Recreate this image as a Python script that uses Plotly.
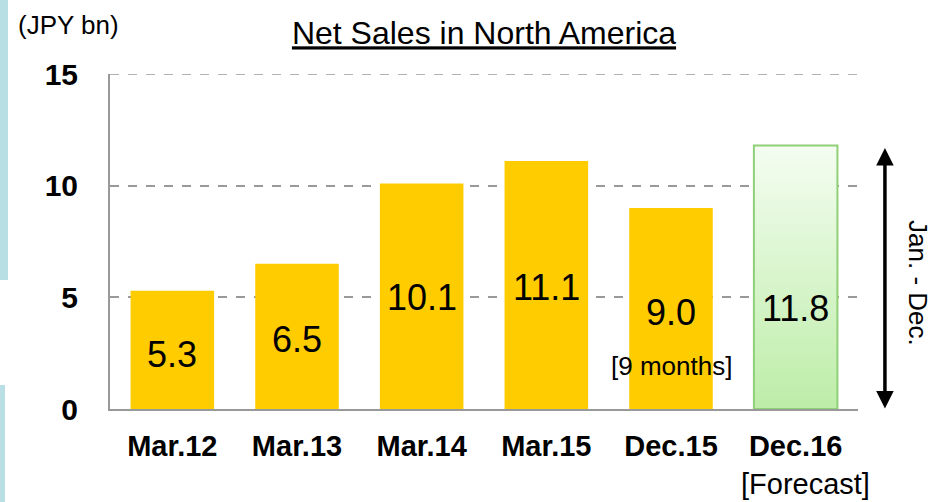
import plotly.graph_objects as go

categories = ["Mar.12", "Mar.13", "Mar.14", "Mar.15", "Dec.15", "Dec.16"]
values = [5.3, 6.5, 10.1, 11.1, 9.0, 11.8]
value_labels = ["5.3", "6.5", "10.1", "11.1", "9.0", "11.8"]
label_y = [2.42, 3.09, 5.0, 5.46, 4.34, 4.52]
y_ticks = [0, 5, 10, 15]

FONT = "Liberation Sans, Arial, sans-serif"
BAR_W = 0.67
xs = list(range(len(categories)))

fig = go.Figure()

# yellow actual bars
fig.add_trace(go.Bar(
    x=xs[:-1], y=values[:-1], width=BAR_W,
    marker=dict(color="#FFCC00", line=dict(width=0)),
    hoverinfo="skip", showlegend=False,
))

# forecast bar with vertical gradient
fx = xs[-1]
fv = values[-1]
fig.add_trace(go.Scatter(
    x=[fx - BAR_W / 2, fx + BAR_W / 2, fx + BAR_W / 2, fx - BAR_W / 2, fx - BAR_W / 2],
    y=[0, 0, fv, fv, 0],
    mode="lines", fill="toself",
    fillgradient=dict(type="vertical",
                      colorscale=[[0, "#BDEDA8"], [1, "#F4FDF1"]]),
    line=dict(color="#8FD078", width=2),
    hoverinfo="skip", showlegend=False,
))

annotations = []
for x, lab, ly in zip(xs, value_labels, label_y):
    annotations.append(dict(x=x, y=ly, xref="x", yref="y", text=lab,
                            showarrow=False, font=dict(family=FONT, size=36, color="black")))

annotations += [
    dict(x=4, y=1.93, xref="x", yref="y", text="[9 months]", showarrow=False,
         font=dict(family=FONT, size=26, color="black")),
    dict(x=5, y=-0.224, xref="x", yref="paper", xshift=10, text="[Forecast]", showarrow=False,
         xanchor="center", yanchor="middle", font=dict(family=FONT, size=29, color="black")),
    dict(x=-0.055, y=1.146, xref="paper", yref="paper", text="(JPY bn)", showarrow=False,
         xanchor="center", yanchor="middle", font=dict(family=FONT, size=26, color="black")),
    dict(x=1.0802, y=5.64, xref="paper", yref="y", text="Jan. - Dec.", textangle=90,
         xanchor="center", yanchor="middle",
         showarrow=False, font=dict(family=FONT, size=26, color="black")),
    dict(x=1.036, y=11.69, xref="paper", yref="y", text="", showarrow=True,
         ax=0, ay=262, arrowside="end+start", arrowhead=2, startarrowhead=2,
         arrowsize=1, startarrowsize=1, arrowwidth=3.5, arrowcolor="black"),
]

fig.update_layout(
    width=932, height=502,
    margin=dict(l=110, r=74, t=74, b=93),
    paper_bgcolor="white", plot_bgcolor="white",
    title=dict(text="<u>Net Sales in North America</u>", x=0.5, xanchor="center",
               y=0.934, yanchor="middle", xref="paper",
               font=dict(family=FONT, size=32, color="black")),
    annotations=annotations,
    shapes=[
        dict(type="rect", xref="paper", yref="paper", x0=-0.147, x1=-0.1364, y0=0.385, y1=1.221,
             fillcolor="#B7DFE4", line=dict(width=0), layer="below"),
        dict(type="rect", xref="paper", yref="paper", x0=-0.147, x1=-0.1404, y0=-0.278, y1=0.0716,
             fillcolor="#B7DFE4", line=dict(width=0), layer="below"),
        dict(type="line", xref="paper", yref="y", x0=0, x1=1, y0=y_ticks[-1], y1=y_ticks[-1],
             line=dict(color="#999999", width=1.5, dash="dash"), layer="below"),
    ],
    showlegend=False,
)

fig.update_xaxes(
    range=[-0.5, 5.5], tickmode="array", tickvals=xs, ticktext=categories,
    showgrid=False, zeroline=False, showline=True, linecolor="#999999", linewidth=2,
    ticks="", ticklabelstandoff=10,
    tickfont=dict(family=FONT, size=29, color="black", weight="bold"),
    fixedrange=True,
)
fig.update_yaxes(
    range=[0, 15], tickmode="array", tickvals=y_ticks,
    showgrid=True, gridcolor="#999999", griddash="dash", gridwidth=1.5,
    zeroline=False, showline=True, linecolor="#999999", linewidth=2,
    ticks="", ticklabelstandoff=24,
    tickfont=dict(family=FONT, size=30, color="black", weight="bold"),
    fixedrange=True,
)

fig.write_html("out.html", config={"displayModeBar": False},
               post_script="document.body.style.margin='0';")
